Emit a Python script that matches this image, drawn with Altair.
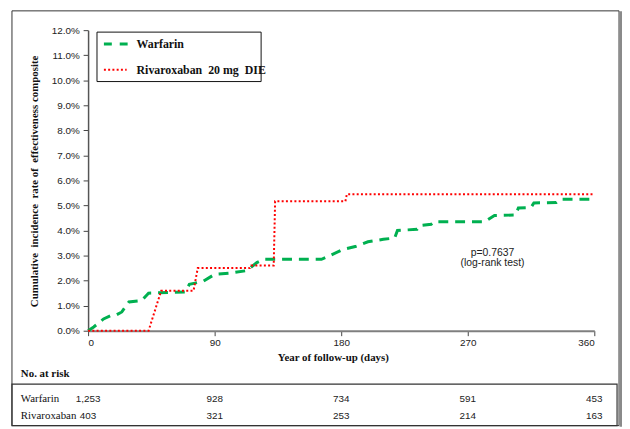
import altair as alt
import pandas as pd

# ---- data ----
war_days = [0, 4, 11, 16, 20, 24, 29, 38, 43, 69, 72, 76, 82, 90, 101, 113, 120, 125,
            166, 172, 181, 190, 199, 210, 218, 220, 234, 236, 244, 246, 282, 289, 304,
            306, 315, 317, 333, 336, 360]
war_vals = [0.0, 0.15, 0.47, 0.60, 0.63, 0.75, 1.15, 1.20, 1.50, 1.55, 1.85, 1.90, 1.98,
            2.25, 2.30, 2.40, 2.72, 2.85, 2.85, 3.00, 3.24, 3.36, 3.55, 3.65, 3.70, 4.00,
            4.05, 4.20, 4.25, 4.35, 4.35, 4.60, 4.62, 4.90, 4.92, 5.10, 5.12, 5.25, 5.25]
riv_days = [0, 43, 52, 75, 78, 115, 116, 132, 133, 183, 184, 360]
riv_vals = [0.0, 0.0, 1.60, 1.60, 2.50, 2.50, 2.60, 2.60, 5.17, 5.17, 5.45, 5.45]

risk_days = [0, 90, 180, 270, 360]
war_risk = ["1,253", "928", "734", "591", "453"]
riv_risk = ["403", "321", "253", "214", "163"]

x_ticks = [0, 90, 180, 270, 360]
y_ticks = [0.0, 0.01, 0.02, 0.03, 0.04, 0.05, 0.06, 0.07, 0.08, 0.09, 0.10, 0.11, 0.12]

NB = "\u00a0"
series_names = ["Warfarin", "Rivaroxaban" + NB + NB + "20 mg" + NB + NB + "DIE"]
y_title_text = ("Cumulative" + NB + NB + "incidence" + NB + NB + "rate of" + NB + NB +
                "effectiveness composite")
p_text = ["p=0.7637", "(log-rank test)"]

SERIF = "Liberation Serif"
SANS = "Liberation Sans"
GREEN = "#00B050"
RED = "#FF0000"

war = pd.DataFrame({"day": war_days, "rate": [v / 100 for v in war_vals]})
riv = pd.DataFrame({"day": riv_days, "rate": [v / 100 for v in riv_vals]})
risk = pd.DataFrame({"day": risk_days, "war": war_risk, "riv": riv_risk})
dummy = pd.DataFrame({"a": [0]})

xs = alt.Scale(domain=[0, 360], nice=False, zero=False)
ys = alt.Scale(domain=[0, 0.12], nice=False)

x_axis = alt.Axis(
    values=x_ticks, title=None, grid=False, labelFont=SANS, labelFontSize=10,
    labelColor="#222", domainColor="#7f7f7f", domainWidth=2, tickColor="#444",
    tickSize=5, labelPadding=2, labelOverlap=False)
y_axis = alt.Axis(
    values=y_ticks, format=".1%", title=None, grid=False, labelFont=SANS,
    labelFontSize=10, labelColor="#222", domainColor="#555", domainWidth=1.5,
    tickColor="#444", tickSize=5, labelPadding=4, labelOverlap=False)

x_enc = alt.X("day:Q", scale=xs, axis=x_axis)
y_enc = alt.Y("rate:Q", scale=ys, axis=y_axis)

green_line = alt.Chart(war).mark_line(
    color=GREEN, strokeWidth=3, strokeDash=[10, 7], interpolate="linear"
).encode(x=x_enc, y=y_enc)

red_line = alt.Chart(riv).mark_line(
    color=RED, strokeWidth=2, strokeDash=[2, 2.3], interpolate="linear"
).encode(x=x_enc, y=y_enc)

# frames
outer = alt.Chart(dummy).mark_rect(filled=False, stroke="#333", strokeWidth=1).encode(
    x=alt.value(-77), x2=alt.value(537), y=alt.value(-19.5), y2=alt.value(400))
shadow = alt.Chart(dummy).mark_rule(stroke="#8a8a8a", strokeWidth=3).encode(
    x=alt.value(539), y=alt.value(-19), y2=alt.value(401))
table_box = alt.Chart(dummy).mark_rect(filled=False, stroke="#333", strokeWidth=1.2).encode(
    x=alt.value(-77), x2=alt.value(535), y=alt.value(358), y2=alt.value(400))

# legend
leg_box = alt.Chart(dummy).mark_rect(filled=False, stroke="#111", strokeWidth=1).encode(
    x=alt.value(9), x2=alt.value(175), y=alt.value(2), y2=alt.value(52))
leg_g = alt.Chart(dummy).mark_rule(color=GREEN, strokeWidth=3, strokeDash=[8, 8]).encode(
    x=alt.value(16), x2=alt.value(40), y=alt.value(14))
leg_r = alt.Chart(dummy).mark_rule(color=RED, strokeWidth=2, strokeDash=[2, 2.3]).encode(
    x=alt.value(16), x2=alt.value(39), y=alt.value(40))
leg_t1 = alt.Chart(dummy).mark_text(
    text=series_names[0], font=SERIF, fontSize=12, fontWeight="bold", align="left",
    baseline="middle", color="#111").encode(x=alt.value(49), y=alt.value(14))
leg_t2 = alt.Chart(dummy).mark_text(
    text=series_names[1], font=SERIF, fontSize=12, fontWeight="bold", align="left",
    baseline="middle", color="#111").encode(x=alt.value(49), y=alt.value(40))

# p-value
p1 = alt.Chart(dummy).mark_text(text=p_text[0], font=SANS, fontSize=10.5, color="#222",
    align="center", baseline="middle").encode(x=alt.value(409), y=alt.value(225))
p2 = alt.Chart(dummy).mark_text(text=p_text[1], font=SANS, fontSize=10.5, color="#222",
    align="center", baseline="middle").encode(x=alt.value(409), y=alt.value(236))

# titles
x_title = alt.Chart(dummy).mark_text(text="Year of follow-up (days)", font=SERIF,
    fontSize=11, fontWeight="bold", color="#111", align="center",
    baseline="middle").encode(x=alt.value(248), y=alt.value(332))
y_title = alt.Chart(dummy).mark_text(
    text=y_title_text, font=SERIF,
    fontSize=11, fontWeight="bold", color="#111", align="center", baseline="middle",
    angle=270).encode(x=alt.value(-54), y=alt.value(153))

# risk table
no_risk = alt.Chart(dummy).mark_text(text="No. at risk", font=SERIF, fontSize=11,
    fontWeight="bold", color="#111", align="left", baseline="middle").encode(
    x=alt.value(-68), y=alt.value(348))
lab_w = alt.Chart(dummy).mark_text(text="Warfarin", font=SERIF, fontSize=11,
    color="#111", align="left", baseline="middle").encode(x=alt.value(-68), y=alt.value(373))
lab_r = alt.Chart(dummy).mark_text(text="Rivaroxaban", font=SERIF, fontSize=11,
    color="#111", align="left", baseline="middle").encode(x=alt.value(-68), y=alt.value(390))
num_w = alt.Chart(risk).mark_text(font=SANS, fontSize=10, color="#222", align="center",
    baseline="middle").encode(x=x_enc, y=alt.value(373), text="war:N")
num_r = alt.Chart(risk).mark_text(font=SANS, fontSize=10, color="#222", align="center",
    baseline="middle").encode(x=x_enc, y=alt.value(390), text="riv:N")

chart = alt.layer(
    outer, shadow, table_box, green_line, red_line, leg_box, leg_g, leg_r, leg_t1, leg_t2,
    p1, p2, x_title, y_title, no_risk, lab_w, lab_r, num_w, num_r
).properties(
    width=512, height=304,
    autosize=alt.AutoSizeParams(type="none"),
    padding={"left": 81, "top": 20, "right": 28, "bottom": 97},
    background="white",
).configure_view(strokeWidth=0)

chart.save("out.html", embed_options={"renderer": "svg", "actions": False})
